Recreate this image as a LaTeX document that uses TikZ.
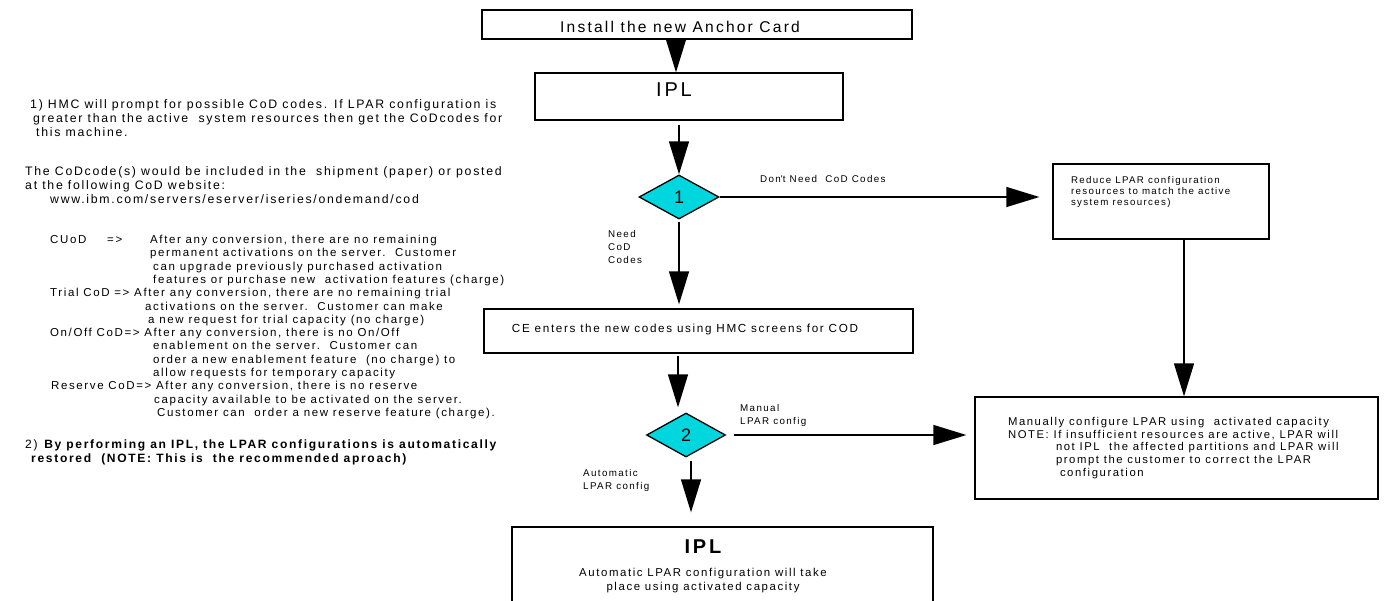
\documentclass[tikz,border=0pt]{standalone}
\usepackage{fontspec}
\setmainfont{Liberation Sans}[LetterSpace=14]
\usetikzlibrary{arrows.meta,shapes.geometric,calc}
\definecolor{dcyan}{RGB}{0,214,222}
\newcommand\offtxt[3]{\raisebox{#2}[0pt][0pt]{\makebox[0pt]{\hspace*{#1}#3}}}
\newcommand\fs[2]{\fontsize{#1}{#2}\selectfont}
\begin{document}
\begin{tikzpicture}[x=1pt,y=-1pt,
  box/.style={draw, line width=1.3pt, inner sep=0pt},
  dia/.style={diamond, draw, line width=1.3pt, fill=dcyan, inner sep=0pt, minimum width=80pt, minimum height=44pt, font=\fs{18}{20}},
  arr/.style={line width=1.3pt, -{Triangle[length=33pt,width=20pt]}},
  lbl/.style={inner sep=0pt, align=left, font=\fs{9.8}{13}},
  note/.style={inner sep=0pt, align=left, anchor=north west}]
\useasboundingbox (0,0) rectangle (1384,600);
\clip (0,0) rectangle (1384,600);

% boxes
\node[box, minimum width=430pt, minimum height=29pt] (install) at (697,24.5) {\offtxt{-34pt}{-7.5pt}{\fs{15.6}{18}Install the new Anchor Card}};
\node[box, minimum width=308pt, minimum height=47pt] (ipl1) at (689,96.5) {\offtxt{-30pt}{0pt}{\fs{20}{24}IPL}};
\node[dia] (d1) at (679,197) {1};
\node[box, minimum width=216pt, minimum height=75pt] (reduce) at (1161,201.5) {\parbox[c][51pt][t]{180pt}{\raggedright\fs{9.7}{11}Reduce LPAR configuration\\resources to match the active\\system resources)}};
\node[box, minimum width=429pt, minimum height=44pt] (ce) at (698.5,331) {\offtxt{-27pt}{-1.7pt}{\fs{11.7}{13}CE enters the new codes using HMC screens for COD}};
\node[dia, minimum width=79pt] (d2) at (686,435) {2};
\node[box, minimum width=403pt, minimum height=102pt] (manual) at (1176.5,448) {\hspace*{8pt}\parbox{345pt}{\raggedright\fs{11.3}{12.7}Manually configure LPAR using\ \ activated capacity\\NOTE: If insufficient resources are active, LPAR will\\\hspace*{48pt}not IPL\ \ the affected partitions and LPAR will\\\hspace*{48pt}prompt the customer to correct the LPAR\\\hspace*{52pt}configuration}};
\node[box, minimum width=421pt, minimum height=113pt] (ipl2) at (722.5,583.5) {\parbox[c][87pt][t]{300pt}{\centering\fs{20}{24}\bfseries IPL\par\vspace{9pt}\fs{11.4}{14}\mdseries Automatic LPAR configuration will take\\place using activated capacity}\hspace*{39pt}};

% connectors
\coordinate (a0) at ($(install.south -| d1.north)+(-3,0)$);
\draw[arr] (a0) -- (a0 |- ipl1.north);
\draw[arr, shorten <=4pt] (ipl1.south -| d1.north) -- (d1.north);
\draw[arr, shorten >=13pt] (d1.east) -- (d1.east -| reduce.west);
\draw[arr, shorten <=2pt, shorten >=4pt] (d1.south) -- (d1.south |- ce.north);
\coordinate (rb) at ($(reduce.south)+(23,0)$);
\draw[arr] (rb) -- (rb |- manual.north);
\coordinate (cb) at ($(ce.south -| d2.north)+(-8,0)$);
\draw[arr, shorten <=2pt, shorten >=5pt] (cb) -- (cb |- d2.north);
\draw[arr, shorten <=8pt, shorten >=8pt] (d2.east) -- (d2.east -| manual.west);
\coordinate (db) at ($(d2.south)+(5,0)$);
\draw[arr, shorten <=3pt, shorten >=14pt] (db) -- (db |- ipl2.north);

% connector labels
\node[lbl, anchor=base west] (l1) at (760,182) {Don\textquotesingle t Need\ \ CoD Codes};
\node[lbl, anchor=north west] (l2) at (608,229.7) {Need\\CoD\\Codes};
\node[lbl, anchor=north west] (l3) at (740,404.2) {Manual\\LPAR config};
\node[lbl, anchor=north west] (l4) at (583,469) {Automatic\\LPAR config};

% notes
\node[note, font=\fs{12.3}{14}] (p1) at (30,99) {1) HMC will prompt for possible CoD codes. If LPAR configuration is\\\hspace*{3pt}greater than the active\ \ system resources then get the CoDcodes for\\\hspace*{6pt}this machine.};
\node[note, font=\fs{12.3}{14}] (p2) at (25,166.2) {The CoDcode(s) would be included in the\ \ shipment (paper) or posted\\at the following CoD website:\\\hspace*{25pt}www.ibm.com/servers/eserver/iseries/ondemand/cod};
\node[note, font=\fs{11.5}{13.3}] (p3) at (50,235) {\makebox[57pt][l]{CUoD}\makebox[43pt][l]{=>}After any conversion, there are no remaining\\
\hspace*{100pt}permanent activations on the server.\ \ Customer\\
\hspace*{103pt}can upgrade previously purchased activation\\
\hspace*{103pt}features or purchase new\ \ activation features (charge)\\
Trial CoD => After any conversion, there are no remaining trial\\
\hspace*{95pt}activations on the server.\ \ Customer can make\\
\hspace*{98pt}a new request for trial capacity (no charge)\\
On/Off CoD=> After any conversion, there is no On/Off\\
\hspace*{103pt}enablement on the server.\ \ Customer can\\
\hspace*{103pt}order a new enablement feature\ \ (no charge) to\\
\hspace*{103pt}allow requests for temporary capacity\\
\hspace*{1pt}Reserve CoD=> After any conversion, there is no reserve\\
\hspace*{104pt}capacity available to be activated on the server.\\
\hspace*{107pt}Customer can\ \ order a new reserve feature (charge).};
\node[note, font=\fs{12.05}{14}] (p4) at (25,440) {2) \textbf{By performing an IPL, the LPAR configurations is automatically}\\\hspace*{6pt}\textbf{restored\ \ (NOTE: This is\ \ the recommended aproach)}};
\end{tikzpicture}
\end{document}
